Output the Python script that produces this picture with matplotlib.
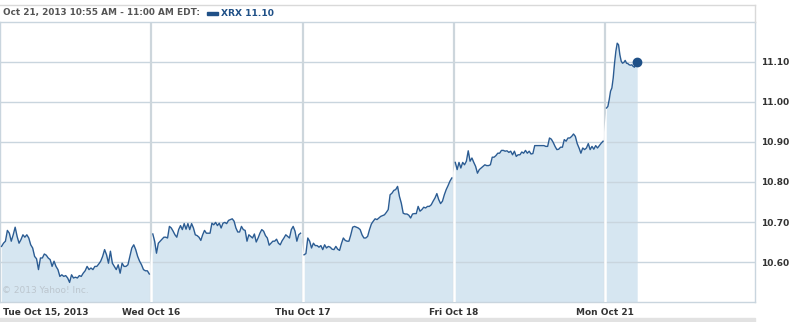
import numpy as np
import matplotlib
matplotlib.use("Agg")
import matplotlib.pyplot as plt
from matplotlib.patches import Rectangle
from matplotlib.lines import Line2D
from matplotlib.transforms import ScaledTranslation

# XRX intraday prices, 5 trading days
tue = [10.639, 10.647, 10.652, 10.679, 10.672, 10.652, 10.668, 10.687, 10.664, 10.647,
       10.656, 10.668, 10.662, 10.668, 10.660, 10.643, 10.635, 10.614, 10.608, 10.581,
       10.610, 10.610, 10.620, 10.617, 10.610, 10.606, 10.589, 10.602, 10.589, 10.581,
       10.564, 10.568, 10.564, 10.566, 10.560, 10.549, 10.568, 10.560, 10.562, 10.560,
       10.566, 10.564, 10.572, 10.578, 10.589, 10.581, 10.585, 10.581, 10.589, 10.589,
       10.595, 10.602, 10.614, 10.631, 10.618, 10.597, 10.627, 10.597, 10.589, 10.581,
       10.593, 10.572, 10.597, 10.589, 10.589, 10.593, 10.614, 10.635, 10.643, 10.631,
       10.614, 10.602, 10.593, 10.581, 10.578, 10.578, 10.570]
wed = [10.670, 10.652, 10.622, 10.647, 10.652, 10.657, 10.662, 10.662, 10.660, 10.689,
       10.685, 10.677, 10.668, 10.662, 10.681, 10.691, 10.681, 10.696, 10.682, 10.696,
       10.681, 10.696, 10.685, 10.668, 10.666, 10.662, 10.654, 10.668, 10.679, 10.672,
       10.672, 10.672, 10.697, 10.693, 10.699, 10.691, 10.697, 10.685, 10.697, 10.699,
       10.696, 10.704, 10.706, 10.708, 10.702, 10.685, 10.675, 10.675, 10.689, 10.681,
       10.679, 10.652, 10.668, 10.664, 10.660, 10.670, 10.650, 10.660, 10.672, 10.681,
       10.677, 10.666, 10.660, 10.642, 10.647, 10.652, 10.652, 10.657, 10.647, 10.643,
       10.653, 10.660, 10.668, 10.664, 10.660, 10.681, 10.689, 10.677, 10.652, 10.668,
       10.672]
thu = [10.618, 10.621, 10.660, 10.652, 10.635, 10.647, 10.641, 10.641, 10.637, 10.641,
       10.631, 10.643, 10.635, 10.639, 10.637, 10.632, 10.631, 10.639, 10.632, 10.629,
       10.646, 10.660, 10.654, 10.652, 10.652, 10.668, 10.687, 10.689, 10.687, 10.685,
       10.681, 10.668, 10.660, 10.660, 10.664, 10.681, 10.695, 10.702, 10.708, 10.706,
       10.710, 10.714, 10.716, 10.718, 10.724, 10.731, 10.768, 10.772, 10.779, 10.781,
       10.789, 10.764, 10.747, 10.722, 10.720, 10.720, 10.717, 10.710, 10.720, 10.721,
       10.721, 10.739, 10.727, 10.731, 10.737, 10.735, 10.739, 10.739, 10.743, 10.752,
       10.760, 10.771, 10.756, 10.746, 10.752, 10.768, 10.781, 10.791, 10.802, 10.810]
fri = [10.849, 10.831, 10.849, 10.835, 10.849, 10.843, 10.852, 10.878, 10.852, 10.860,
       10.849, 10.839, 10.822, 10.831, 10.835, 10.839, 10.843, 10.841, 10.841, 10.843,
       10.862, 10.862, 10.866, 10.872, 10.872, 10.879, 10.879, 10.877, 10.878, 10.874,
       10.877, 10.868, 10.877, 10.864, 10.868, 10.868, 10.875, 10.872, 10.879, 10.872,
       10.877, 10.870, 10.871, 10.891, 10.891, 10.891, 10.891, 10.891, 10.891, 10.889,
       10.889, 10.910, 10.907, 10.899, 10.889, 10.881, 10.882, 10.887, 10.887, 10.906,
       10.902, 10.910, 10.910, 10.914, 10.920, 10.914, 10.896, 10.885, 10.872, 10.885,
       10.881, 10.885, 10.896, 10.881, 10.889, 10.882, 10.891, 10.885, 10.891, 10.897,
       10.902]
mon = [10.985, 10.989, 11.006, 11.027, 11.035, 11.060, 11.097, 11.127, 11.147, 11.143,
       11.118, 11.102, 11.097, 11.099, 11.104, 11.097, 11.096, 11.093, 11.092, 11.093,
       11.089, 11.087, 11.095, 11.100]

days = [tue, wed, thu, fri, mon]
day_labels = ["Tue Oct 15, 2013", "Wed Oct 16", "Thu Oct 17", "Fri Oct 18", "Mon Oct 21"]
y_ticks = [10.60, 10.70, 10.80, 10.90, 11.00, 11.10]
last_price = 11.10

SESSION = 390  # minutes per trading day
line_c = "#2b5c93"
fill_c = "#d6e6f1"
grid_c = "#c9d5de"

fig = plt.figure(figsize=(7.96, 3.22), dpi=100)
ax = fig.add_axes([0.0, 20 / 322, 755 / 796, 280 / 322])
ax.set_facecolor("white")

# time axis in trading minutes since Tue 9:30
xs_all, ys_all, segs = [], [], []
for i, d in enumerate(days):
    start = i * SESSION
    if i < 4:
        t = np.linspace(start + 4, start + 385, len(d))
    else:
        t = np.linspace(start + 4, start + 83, len(d))
    segs.append((t, d))
    xs_all.extend(t)
    ys_all.extend(d)

fill = ax.fill_between(xs_all, ys_all, 10.50, color=fill_c, lw=0, zorder=1)

for y in y_ticks:
    ax.axhline(y, color=grid_c, lw=1, zorder=2)
day_starts = [i * SESSION for i in range(5)]
for x in day_starts[1:]:
    ax.axvline(x, color="#cdd6dc", lw=1.6, zorder=2)
    w = ax.axvline(x, color="white", lw=1.8, zorder=3)
    w.set_clip_path(fill.get_paths()[0], ax.transData)

for t, d in segs:
    ax.plot(t, d, color=line_c, lw=1.0, zorder=4)
t_last, d_last = segs[-1]
ax.plot(t_last[-1], last_price, "o", color="#1f5087", ms=6, zorder=5)

ax.set_xlim(0, 755 / 151.25 * SESSION)
ax.set_ylim(10.50, 11.20)

ax.yaxis.tick_right()
ax.set_yticks(y_ticks)
ax.set_yticklabels([f"{v:.2f}" for v in y_ticks])
ax.tick_params(axis="y", length=0, pad=4, labelsize=6.5, labelcolor="#333333")
ax.set_xticks(day_starts)
ax.set_xticklabels(day_labels)
ax.tick_params(axis="x", length=0, pad=4, labelsize=6.5, labelcolor="#333333")
for lab in ax.get_xticklabels() + ax.get_yticklabels():
    lab.set_fontweight("bold")
first = ax.get_xticklabels()[0]
first.set_ha("left")
first.set_transform(first.get_transform() + ScaledTranslation(3 / 100, 0, fig.dpi_scale_trans))

for s in ax.spines.values():
    s.set_color(grid_c)
    s.set_linewidth(1)

ax.text(5, 10.523, "\u00a9 2013 Yahoo! Inc.", fontsize=6.5, color="#bcc6ce", zorder=6)

# header
fig.text(3 / 796, 1 - 13 / 322, "Oct 21, 2013 10:55 AM - 11:00 AM EDT:", fontsize=6.4,
         fontweight="bold", color="#555555", va="center", ha="left")
fig.patches.append(Rectangle((207 / 796, 1 - 14.5 / 322), 11 / 796, 3 / 322,
                             transform=fig.transFigure, color="#1f5087"))
fig.text(221 / 796, 1 - 13 / 322, "XRX 11.10", fontsize=6.6, fontweight="bold",
         color="#1f5087", va="center", ha="left")

# outer frame bits and bottom strip
fig.lines.append(Line2D([0, 755 / 796], [1 - 4.5 / 322] * 2, transform=fig.transFigure,
                        color="#d9d9d9", lw=1))
fig.lines.append(Line2D([755 / 796] * 2, [1 - 4.5 / 322, 1 - 22 / 322],
                        transform=fig.transFigure, color="#d9d9d9", lw=1))
fig.patches.append(Rectangle((0, 0), 755 / 796, 4 / 322, transform=fig.transFigure,
                             color="#e2e2e2"))

fig.savefig("out.png", dpi=100)
